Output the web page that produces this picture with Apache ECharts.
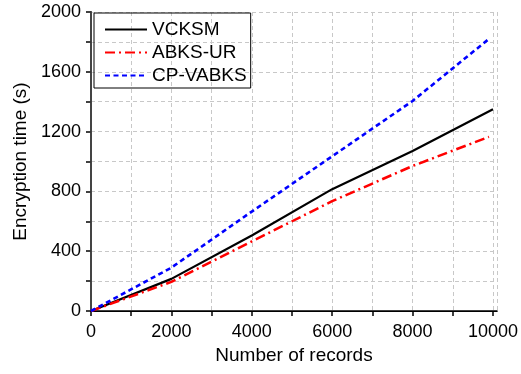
<!DOCTYPE html>
<html>
<head>
<meta charset="utf-8">
<script src="https://cdn.jsdelivr.net/npm/echarts@6/dist/echarts.min.js"></script>
<style>
  html, body { margin: 0; padding: 0; background: #fff; }
  #chart { width: 521px; height: 374px; }
</style>
</head>
<body>
<div id="chart"></div>
<script>
// values
const seriesNames = ['VCKSM', 'ABKS-UR', 'CP-VABKS']
const vcksmX = [0, 2000, 4000, 6000, 8000, 10000]
const vcksmY = [0, 215, 505, 815, 1070, 1350]
const abksX = [0, 2000, 4000, 6000, 8000, 9900]
const abksY = [0, 195, 465, 735, 970, 1165]
const cpvX = [0, 2000, 4000, 6000, 8000, 9900]
const cpvY = [0, 290, 665, 1035, 1405, 1820]
const xLabels = [0, 2000, 4000, 6000, 8000, 10000]

const font = 'Liberation Sans, Arial, sans-serif'
const pairs = (xs, ys) => xs.map((x, i) => [x, ys[i]])

const chart = echarts.init(document.getElementById('chart'), null, { renderer: 'canvas' })

const gridLine = { show: true, lineStyle: { color: '#c8c8c8', type: [4, 3], width: 1 } }

chart.setOption({
  animation: false,
  grid: { left: 91, right: 23, top: 12, bottom: 63 },
  legend: {
    orient: 'vertical',
    left: 94,
    top: 13,
    data: seriesNames,
    borderColor: '#000',
    borderWidth: 1,
    borderRadius: 0,
    padding: [7, 4, 3, 10],
    itemGap: 4,
    itemWidth: 42,
    itemHeight: 14,
    itemStyle: { opacity: 0 },
    textStyle: { fontFamily: font, fontSize: 19, color: '#000', padding: [0, 0, 0, 0] },
  },
  xAxis: [
    {
      type: 'value',
      min: 0,
      max: 10100,
      interval: 1000,
      name: 'Number of records',
      nameLocation: 'middle',
      nameGap: 31,
      nameTextStyle: { fontFamily: font, fontSize: 19, color: '#000' },
      axisLine: { lineStyle: { color: '#000', width: 1.5 } },
      axisTick: { show: true, length: 5, lineStyle: { color: '#000', width: 1.5 } },
      axisLabel: {
        fontFamily: font, fontSize: 18, color: '#000', margin: 12,
        showMaxLabel: false,
        formatter: v => (xLabels.includes(v) ? String(v) : ''),
      },
      splitLine: gridLine,
    },
    {
      type: 'value',
      position: 'top',
      min: 0,
      max: 10100,
      interval: 1000,
      axisLine: { show: true, lineStyle: { color: '#000', width: 1 } },
      axisTick: { show: false },
      axisLabel: { show: false },
      splitLine: { show: false },
    },
  ],
  yAxis: [
    {
      type: 'value',
      min: 0,
      max: 2000,
      interval: 200,
      name: 'Encryption time (s)',
      nameLocation: 'middle',
      nameGap: 57,
      nameTextStyle: { fontFamily: font, fontSize: 19, color: '#000' },
      axisLine: { show: true, lineStyle: { color: '#000', width: 1.5 } },
      axisTick: { show: true, length: 5, lineStyle: { color: '#000', width: 1.5 } },
      axisLabel: {
        fontFamily: font, fontSize: 18, color: '#000', margin: 10,
        formatter: v => (v % 400 === 0 ? String(v) : ''),
      },
      splitLine: gridLine,
    },
    {
      type: 'value',
      position: 'right',
      min: 0,
      max: 2000,
      interval: 200,
      axisLine: { show: true, lineStyle: { color: '#444', width: 2 } },
      axisTick: { show: true, inside: true, length: 4, lineStyle: { color: '#444', width: 1.5 } },
      axisLabel: { show: false },
      splitLine: { show: false },
    },
  ],
  series: [
    {
      name: seriesNames[0],
      type: 'line',
      data: pairs(vcksmX, vcksmY),
      symbol: 'none',
      lineStyle: { color: '#000', width: 2.2 },
      itemStyle: { color: '#000' },
    },
    {
      name: seriesNames[1],
      type: 'line',
      data: pairs(abksX, abksY),
      symbol: 'none',
      lineStyle: { color: '#ff0000', width: 2.5, type: [10, 4, 2, 4] },
      itemStyle: { color: '#ff0000' },
    },
    {
      name: seriesNames[2],
      type: 'line',
      data: pairs(cpvX, cpvY),
      symbol: 'none',
      lineStyle: { color: '#0000ff', width: 2.6, type: [5, 3.5] },
      itemStyle: { color: '#0000ff' },
    },
  ],
})
</script>
</body>
</html>
